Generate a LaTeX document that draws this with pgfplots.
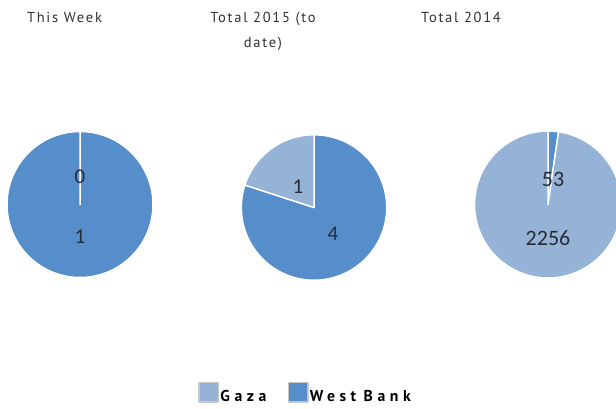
\documentclass[border=0pt]{standalone}
\usepackage{fontspec}
\setmainfont{Carlito}
\newfontfamily\titlefont[LetterSpace=12]{PT Sans}
\newfontfamily\legfont[LetterSpace=29]{PT Sans}
\newfontfamily\numfont{Carlito}
\usepackage{pgfplots}
\pgfplotsset{compat=1.18}
\definecolor{gaza}{RGB}{149,179,215}
\definecolor{wb}{RGB}{86,141,203}
\definecolor{lab}{RGB}{38,44,56}
\definecolor{ttl}{RGB}{48,48,48}
% values: Gaza, West Bank
\def\gA{0}\def\wA{1}
\def\gB{1}\def\wB{4}
\def\gC{2256}\def\wC{53}
\pgfmathsetmacro\aA{90-360*(\wA/(\gA+\wA))}
\pgfmathsetmacro\aB{90-360*(\wB/(\gB+\wB))}
\pgfmathsetmacro\aC{90-360*(\wC/(\gC+\wC))}
\begin{document}
\begin{tikzpicture}
\begin{axis}[x=1pt,y=1pt,xmin=0,xmax=616,ymin=0,ymax=408,y dir=reverse,
  hide axis, clip=true, anchor=south west, at={(0,0)},
  every axis plot/.append style={draw=white,line width=1.5pt,line join=round},
  legend image code/.code={\draw[#1,draw=black!22,line width=1.6pt] (0.8pt,-0.6pt) rectangle (20.2pt,18.8pt);},
  legend style={at={(axis cs:198,404)},anchor=south west,draw=none,fill=none,
    legend columns=2,inner sep=0pt,
    nodes={inner sep=1.2pt,anchor=base west},
    font=\fontsize{15.7}{17}\selectfont\legfont\bfseries,
    /tikz/every even column/.append style={column sep=20pt}},
]
% Pie 1 (This Week)
\addplot[forget plot,fill=wb,domain=\aA:90,samples=200,variable=\t]
  ({80+73*cos(t)},{204.5-73*sin(t)}) -- (80,204.5) -- cycle;
% Pie 2 (Total 2015)
\addplot[forget plot,fill=wb,domain=\aB:90,samples=200,variable=\t]
  ({314+72.7*cos(t)},{207.5-72.7*sin(t)}) -- (314,207.5) -- cycle;
\addplot[forget plot,fill=gaza,domain=-270:\aB,samples=60,variable=\t]
  ({314+72.7*cos(t)},{207.5-72.7*sin(t)}) -- (314,207.5) -- cycle;
% Pie 3 (Total 2014)
\addplot[forget plot,fill=wb,domain=\aC:90,samples=10,variable=\t]
  ({548+73.5*cos(t)},{204.5-73.5*sin(t)}) -- (548,204.5) -- cycle;
\addplot[forget plot,fill=gaza,domain=-270:\aC,samples=200,variable=\t]
  ({548+73.5*cos(t)},{204.5-73.5*sin(t)}) -- (548,204.5) -- cycle;
\addlegendimage{fill=gaza}
\addlegendentry{Gaza}
\addlegendimage{fill=wb}
\addlegendentry{West\hspace{-1pt} Bank}
% data labels
\node[font=\fontsize{21}{24}\selectfont\numfont,text=lab] at (80,177) {\gA};
\node[font=\fontsize{21}{24}\selectfont\numfont,text=lab] at (80,237) {\wA};
\node[font=\fontsize{21}{24}\selectfont\numfont,text=lab] at (298,187) {\gB};
\node[font=\fontsize{21}{24}\selectfont\numfont,text=lab] at (333,234) {\wB};
\node[font=\fontsize{22}{25}\selectfont\numfont,text=lab] at (553,179) {\wC};
\node[font=\fontsize{22}{25}\selectfont\numfont,text=lab] at (548,238) {\gC};
% titles
\node[font=\fontsize{14.5}{16}\selectfont\titlefont,text=ttl,anchor=base] at (64.5,22) {This Week};
\node[font=\fontsize{14.5}{16}\selectfont\titlefont,text=ttl,anchor=base] at (263,22) {Total 2015 (to};
\node[font=\fontsize{14.5}{16}\selectfont\titlefont,text=ttl,anchor=base] at (263,47) {date)};
\node[font=\fontsize{14.5}{16}\selectfont\titlefont,text=ttl,anchor=base] at (461,22) {Total 2014};
\end{axis}
\pgfresetboundingbox
\path (0,0) rectangle (616pt,408pt);
\end{tikzpicture}
\end{document}
